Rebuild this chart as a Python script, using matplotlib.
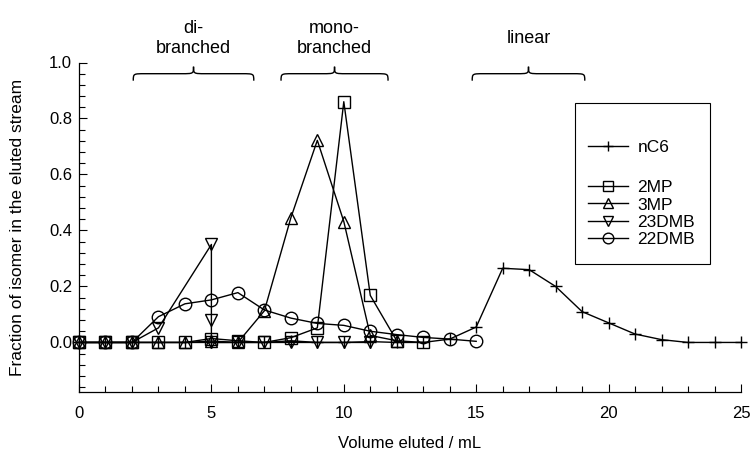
import matplotlib
matplotlib.use("Agg")
import matplotlib.pyplot as plt
from matplotlib.path import Path
from matplotlib.patches import PathPatch, Rectangle
from matplotlib.ticker import MultipleLocator

plt.rcParams['font.family'] = ['Liberation Sans', 'DejaVu Sans']

# ---- data ----
vol_nc6 = list(range(0, 26))
nC6 = [0, 0, 0, 0, 0, 0, 0, 0, 0.006, 0, 0, 0.003, 0, 0, 0.012, 0.055,
       0.265, 0.26, 0.20, 0.11, 0.07, 0.03, 0.01, 0, 0, 0]

vol_2mp = list(range(0, 14))
mp2 = [0, 0, 0, 0, 0, 0.014, 0.006, 0, 0.017, 0.052, 0.86, 0.168, 0.006, 0]

vol_3mp = list(range(0, 13))
mp3 = [0, 0, 0, 0, 0, 0.005, 0, 0.113, 0.445, 0.722, 0.432, 0.025, 0.006]

vol_23dmb = [0, 1, 2, 3, 5, 5, 5, 6, 7, 8, 9, 10, 11]
dmb23 = [0, 0, 0, 0.052, 0.35, 0.08, 0, 0, 0, 0, 0, 0, 0]

vol_22dmb = list(range(0, 16))
dmb22 = [0, 0, 0, 0.092, 0.138, 0.152, 0.178, 0.116, 0.087, 0.068, 0.061,
         0.04, 0.028, 0.018, 0.012, 0.004]

groups = ["di-\nbranched", "mono-\nbranched", "linear"]
group_ranges = [(2.05, 6.6), (7.63, 11.67), (14.85, 19.1)]

# ---- figure ----
W, H = 755, 457
fig = plt.figure(figsize=(W / 100, H / 100), dpi=100)
ax = fig.add_axes([79 / W, 1 - 392 / H, (741 - 79) / W, (392 - 62.5) / H])

ms = 9
common = dict(color='black', lw=1.0, mfc='none', mec='black', mew=1.0, ms=ms)
l_nc6, = ax.plot(vol_nc6, nC6, marker='+', **common)
l_2mp, = ax.plot(vol_2mp, mp2, marker='s', **{**common, 'ms': 8.5})
l_3mp, = ax.plot(vol_3mp, mp3, marker='^', **common)
l_23, = ax.plot(vol_23dmb, dmb23, marker='v', **common)
l_22, = ax.plot(vol_22dmb, dmb22, marker='o', **common)
for l in (l_nc6, l_2mp, l_3mp, l_23, l_22):
    l.set_clip_on(False)

ax.set_xlim(0, 25)
ax.set_ylim(-0.177, 1.0)
ax.spines['top'].set_visible(False)
ax.spines['right'].set_visible(False)
for s in ('left', 'bottom'):
    ax.spines[s].set_linewidth(0.9)
ax.xaxis.set_major_locator(MultipleLocator(5))
ax.xaxis.set_minor_locator(MultipleLocator(1))
ax.yaxis.set_minor_locator(MultipleLocator(0.04))
ax.set_yticks([0.0, 0.2, 0.4, 0.6, 0.8, 1.0])
ax.set_yticklabels(['0.0', '0.2', '0.4', '0.6', '0.8', '1.0'])
ax.tick_params(which='both', direction='in', labelsize=12, width=0.8)
ax.tick_params(which='major', length=6)
ax.tick_params(which='minor', length=4)
ax.tick_params(axis='x', pad=10)
ax.tick_params(axis='y', pad=5)

ax.set_xlabel('Volume eluted / mL', fontsize=12, labelpad=11)
ax.set_ylabel('Fraction of isomer in the eluted stream', fontsize=12.5,
              labelpad=17)

# braces
def brace(x0, x1, yb=0.96, yend=0.935, ytip=0.985):
    xm = (x0 + x1) / 2
    r = 0.45
    verts = [(x0, yend),
             (x0, yb), (x0, yb), (x0 + r, yb),
             (xm - r, yb),
             (xm, yb), (xm, yb), (xm, ytip),
             (xm, yb), (xm, yb), (xm + r, yb),
             (x1 - r, yb),
             (x1, yb), (x1, yb), (x1, yend)]
    codes = [Path.MOVETO,
             Path.CURVE4, Path.CURVE4, Path.CURVE4,
             Path.LINETO,
             Path.CURVE4, Path.CURVE4, Path.CURVE4,
             Path.CURVE4, Path.CURVE4, Path.CURVE4,
             Path.LINETO,
             Path.CURVE4, Path.CURVE4, Path.CURVE4]
    p = PathPatch(Path(verts, codes), fc='none', ec='black', lw=1.0,
                  clip_on=False)
    ax.add_patch(p)

for (x0, x1), g in zip(group_ranges, groups):
    brace(x0, x1)
    ax.text((x0 + x1) / 2, 1.085, g, ha='center', va='center',
            fontsize=13, linespacing=1.2, clip_on=False)

# legend: two blocks inside a common frame
leg_kw = dict(loc='upper left', frameon=False, borderpad=0, borderaxespad=0,
              handlelength=2.3, handletextpad=0.55, labelspacing=0.13,
              fontsize=12.5, markerscale=0.85)
fig.legend([l_nc6], ['nC6'], bbox_to_anchor=(588 / W, 1 - 140 / H), **leg_kw)
fig.legend([l_2mp, l_3mp, l_23, l_22], ['2MP', '3MP', '23DMB', '22DMB'],
           bbox_to_anchor=(588 / W, 1 - 180 / H), **leg_kw)
fig.add_artist(Rectangle((575 / W, 1 - 264 / H), (710 - 575) / W,
                         (264 - 103) / H, transform=fig.transFigure,
                         fill=False, ec='black', lw=0.8))

fig.savefig('out.png', dpi=100)
